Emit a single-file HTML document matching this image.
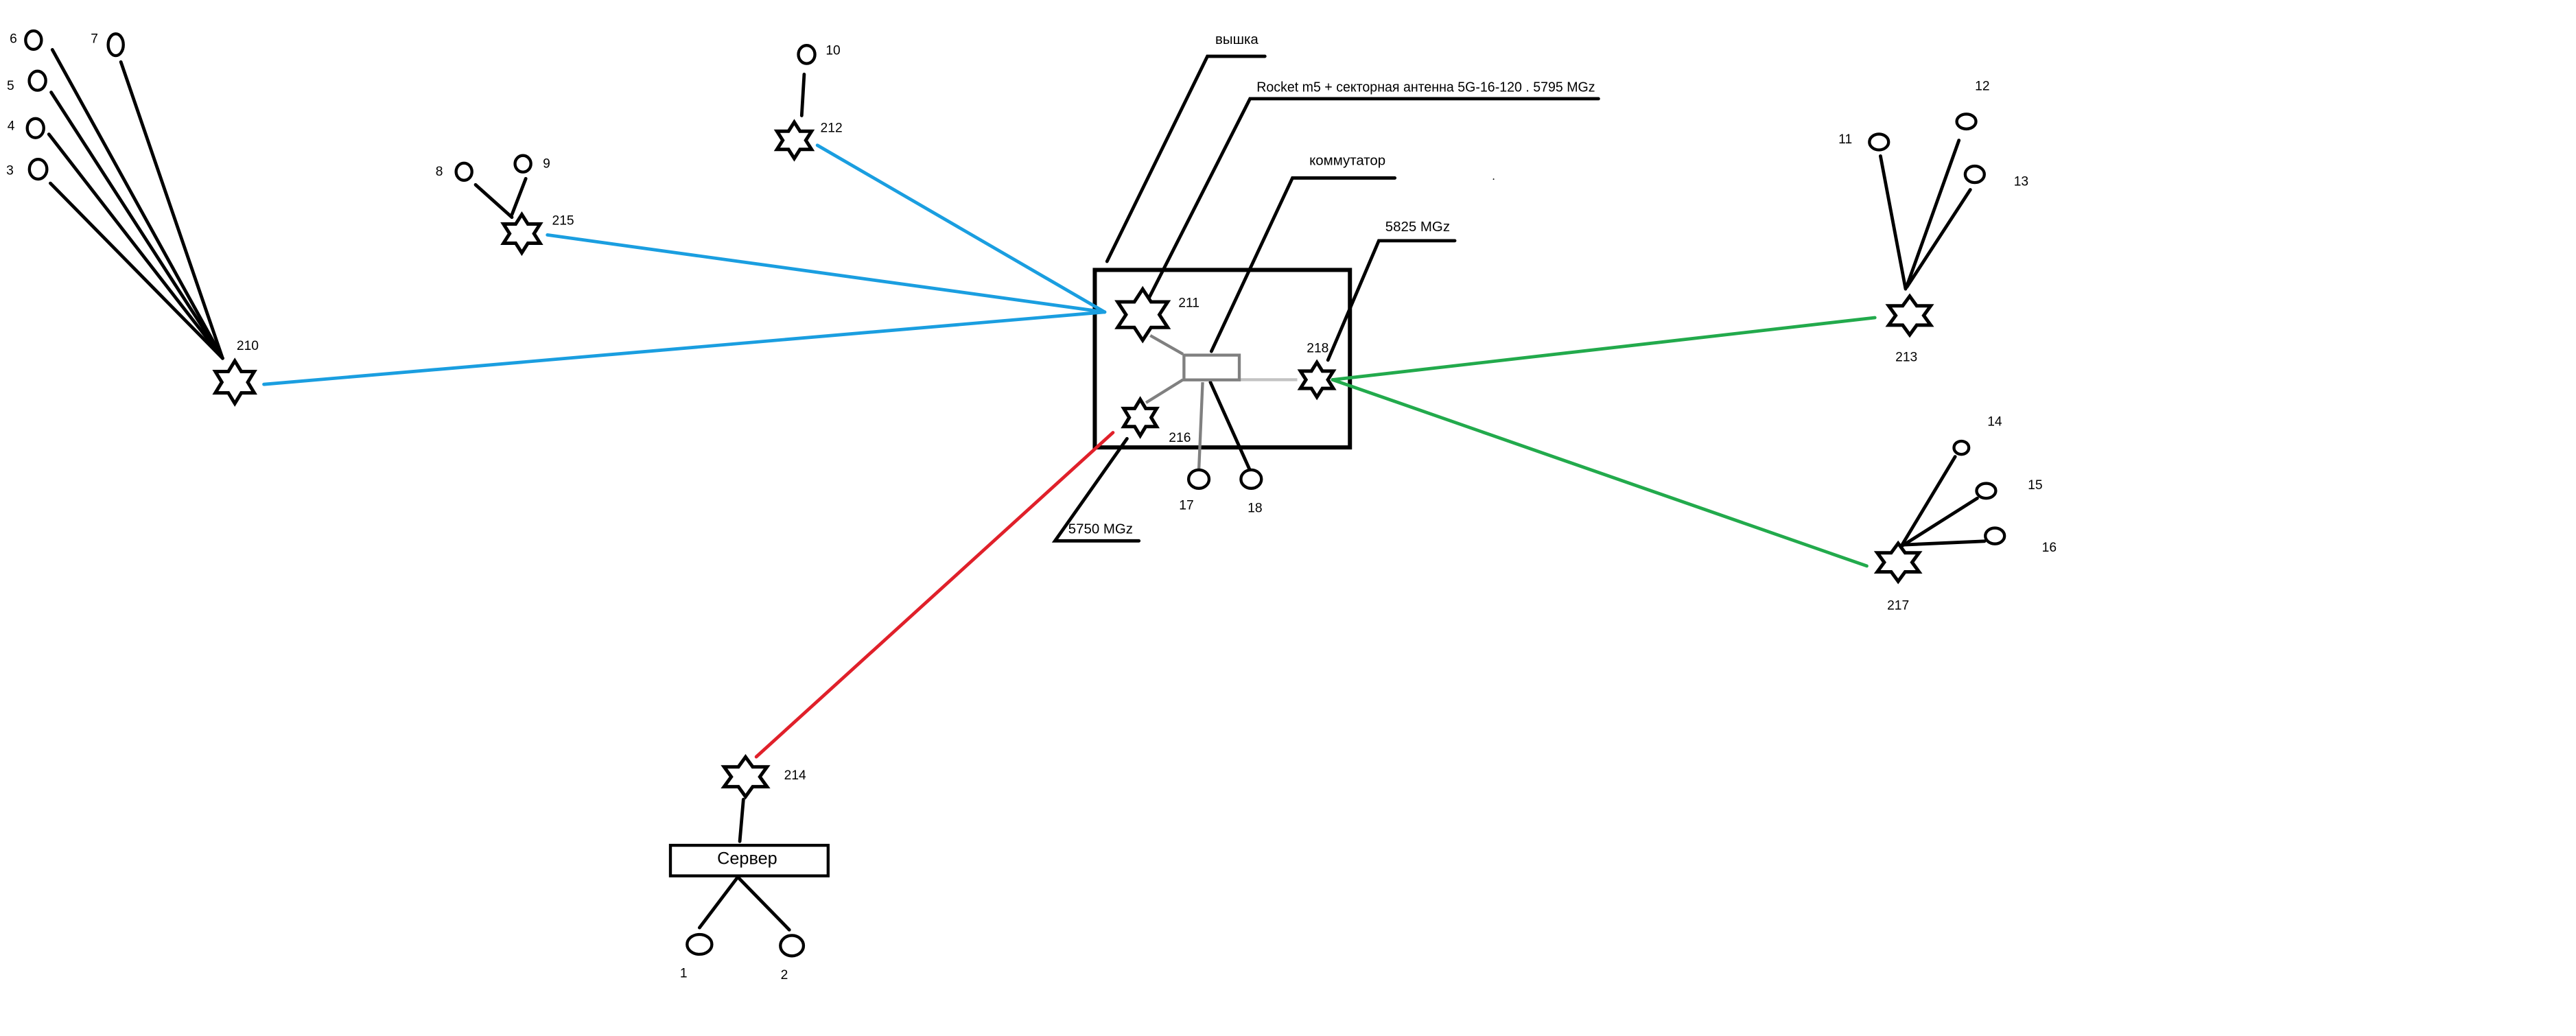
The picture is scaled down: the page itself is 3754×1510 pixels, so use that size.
<!DOCTYPE html>
<html><head><meta charset="utf-8"><style>
html,body{margin:0;padding:0;background:#fff;}
svg{display:block;}
text{font-family:"Liberation Sans","Noto Sans CJK SC",sans-serif;fill:#000;}
</style></head><body>
<svg width="3754" height="1510" viewBox="0 0 1560 627.5" preserveAspectRatio="none" xmlns="http://www.w3.org/2000/svg">
<defs>
<polygon id="hx" points="0,-1 0.289,-0.5 0.866,-0.5 0.577,0 0.866,0.5 0.289,0.5 0,1 -0.289,0.5 -0.866,0.5 -0.577,0 -0.866,-0.5 -0.289,-0.5" fill="#fff" stroke="#000" stroke-width="5" vector-effect="non-scaling-stroke" stroke-linejoin="miter"/>
</defs>
<g stroke="#000" stroke-width="2" fill="none" stroke-linecap="round">
<!-- 210 fan -->
<line x1="31.7" y1="30.1" x2="134.8" y2="217"/>
<line x1="73.2" y1="37.5" x2="134.8" y2="217"/>
<line x1="31" y1="55.9" x2="134.8" y2="217"/>
<line x1="29.6" y1="81.3" x2="134.8" y2="217"/>
<line x1="30.5" y1="111" x2="134.8" y2="217"/>
<!-- 215 -->
<line x1="288" y1="111.9" x2="310" y2="131.6"/>
<line x1="318.4" y1="108.2" x2="310" y2="130"/>
<!-- 212 -->
<line x1="487" y1="45" x2="485.5" y2="70"/>
<!-- callouts -->
<polyline points="766,34.1 731.2,34.1 670.4,158.3"/>
<polyline points="968,59.8 757,59.8 696.1,179.9"/>
<polyline points="844.7,107.8 782.7,107.8 733.6,212.8"/>
<polyline points="881,145.8 835,145.8 804.2,218.1"/>
<polyline points="689.7,327.6 638.9,327.6 682.5,265.7"/>
<!-- 18 -->
<line x1="733" y1="231.5" x2="757" y2="284.9"/>
<!-- right clusters -->
<line x1="1138.8" y1="94.5" x2="1154" y2="175"/>
<line x1="1186.3" y1="85" x2="1154.5" y2="174"/>
<line x1="1193.2" y1="114.9" x2="1154.7" y2="174"/>
<line x1="1184" y1="276.6" x2="1151.3" y2="331"/>
<line x1="1197.4" y1="301.8" x2="1151.3" y2="331"/>
<line x1="1201.8" y1="327.8" x2="1152.7" y2="330"/>
<!-- server -->
<line x1="450.2" y1="484.2" x2="448" y2="509.6"/>
<line x1="446.8" y1="531.2" x2="423.6" y2="561.9"/>
<line x1="446.8" y1="531.2" x2="478" y2="563.2"/>
</g>
<!-- box -->
<rect x="663" y="163.5" width="154.5" height="107.5" fill="none" stroke="#000" stroke-width="2.5"/>
<!-- colored links -->
<g stroke-width="2" stroke-linecap="round" fill="none">
<line x1="159.8" y1="232.8" x2="669" y2="189" stroke="#1a9ee0"/>
<line x1="331.5" y1="142.3" x2="669" y2="189" stroke="#1a9ee0"/>
<line x1="495" y1="88" x2="669" y2="189" stroke="#1a9ee0"/>
<line x1="807" y1="230" x2="1135.4" y2="192.4" stroke="#22aa4c"/>
<line x1="807" y1="230" x2="1130.5" y2="342.8" stroke="#22aa4c"/>
<line x1="674" y1="262" x2="458" y2="458.4" stroke="#e0202a"/>
</g>
<!-- switch internals -->
<g fill="none" stroke-width="1.8">
<line x1="696.6" y1="203.2" x2="716.4" y2="214.5" stroke="#808080"/>
<line x1="694" y1="243.9" x2="716.4" y2="230" stroke="#808080"/>
<line x1="750.5" y1="230" x2="785.6" y2="230" stroke="#c3c3c3"/>
<line x1="728.3" y1="231.5" x2="726" y2="284.9" stroke="#808080"/>
<rect x="717" y="215.1" width="33.5" height="15" stroke="#808080" stroke-width="1.8"/>
</g>
<!-- circles -->
<g fill="#fff" stroke="#000" stroke-width="1.8">
<ellipse cx="20.3" cy="24.3" rx="4.8" ry="5.6"/>
<ellipse cx="70.1" cy="27.1" rx="4.6" ry="6.6"/>
<ellipse cx="22.7" cy="48.9" rx="5" ry="5.8"/>
<ellipse cx="21.5" cy="77.6" rx="5" ry="5.8"/>
<ellipse cx="23.1" cy="102.5" rx="5.3" ry="6"/>
<ellipse cx="281" cy="104" rx="4.8" ry="5.2"/>
<ellipse cx="316.7" cy="99.2" rx="4.8" ry="5"/>
<ellipse cx="488.5" cy="33" rx="5" ry="5.5"/>
<ellipse cx="726" cy="290.2" rx="6.2" ry="5.6"/>
<ellipse cx="757.7" cy="290.2" rx="6.2" ry="5.6"/>
<ellipse cx="1137.9" cy="86" rx="5.8" ry="4.8"/>
<ellipse cx="1190.8" cy="73.6" rx="5.8" ry="4.5"/>
<ellipse cx="1195.9" cy="105.6" rx="5.8" ry="5"/>
<ellipse cx="1187.8" cy="271.2" rx="4.5" ry="4"/>
<ellipse cx="1202.8" cy="297.3" rx="5.8" ry="4.5"/>
<ellipse cx="1208.1" cy="324.6" rx="5.8" ry="4.8"/>
<ellipse cx="423.6" cy="572" rx="7.5" ry="6"/>
<ellipse cx="479.6" cy="572.8" rx="7" ry="6.2"/>
</g>
<!-- stars -->
<use href="#hx" transform="translate(142.2,231.5) scale(13.6,12.9)"/>
<use href="#hx" transform="translate(316,141.5) scale(12.8,11.6)"/>
<use href="#hx" transform="translate(481,85) scale(12.1,11)"/>
<use href="#hx" transform="translate(692,190.6) scale(17.5,15.5)"/>
<use href="#hx" transform="translate(690.5,252.9) scale(11.5,11)"/>
<use href="#hx" transform="translate(797.5,230) scale(11.5,10.5)"/>
<use href="#hx" transform="translate(1156.5,191.1) scale(14.7,11.7)"/>
<use href="#hx" transform="translate(1149.5,340.6) scale(14.6,11.5)"/>
<use href="#hx" transform="translate(451.5,470.5) scale(15,12)"/>
<!-- server -->
<rect x="406" y="512" width="95.5" height="18.5" fill="#fff" stroke="#000" stroke-width="1.8"/>
<text x="452.5" y="523.5" font-size="10.5" text-anchor="middle">Сервер</text>
<!-- labels -->
<g font-size="8" text-anchor="middle">
<text x="8.1" y="26">6</text>
<text x="57.2" y="26">7</text>
<text x="6.4" y="54.5">5</text>
<text x="6.7" y="78.7">4</text>
<text x="6" y="105.8">3</text>
<text x="150" y="212">210</text>
<text x="266" y="106.3">8</text>
<text x="331" y="101.7">9</text>
<text x="341" y="136">215</text>
<text x="504.5" y="33">10</text>
<text x="503.5" y="80">212</text>
<text x="749" y="26.5" font-size="8.5">вышка</text>
<text x="816" y="100" font-size="8.5">коммутатор</text>
<text x="858.5" y="140" font-size="8.5">5825 MGz</text>
<text x="720" y="186">211</text>
<text x="798" y="213.4">218</text>
<text x="714.5" y="267.6">216</text>
<text x="718.5" y="308.6">17</text>
<text x="760" y="310.3">18</text>
<text x="666.5" y="323.1" font-size="8.5">5750 MGz</text>
<text x="481.5" y="472">214</text>
<text x="414" y="592">1</text>
<text x="475" y="593">2</text>
<text x="1117.5" y="86.9">11</text>
<text x="1200.5" y="54.6">12</text>
<text x="1224" y="112.5">13</text>
<text x="1154.5" y="218.7">213</text>
<text x="1208" y="257.8">14</text>
<text x="1232.5" y="296.2">15</text>
<text x="1241" y="334.2">16</text>
<text x="1149.5" y="369.3">217</text>
</g>
<text x="761" y="55.5" font-size="8.5" textLength="205" lengthAdjust="spacingAndGlyphs">Rocket m5 + секторная антенна 5G-16-120 . 5795 MGz</text>
<circle cx="904.5" cy="108.5" r="0.4" fill="#000"/>
</svg>
</body></html>
